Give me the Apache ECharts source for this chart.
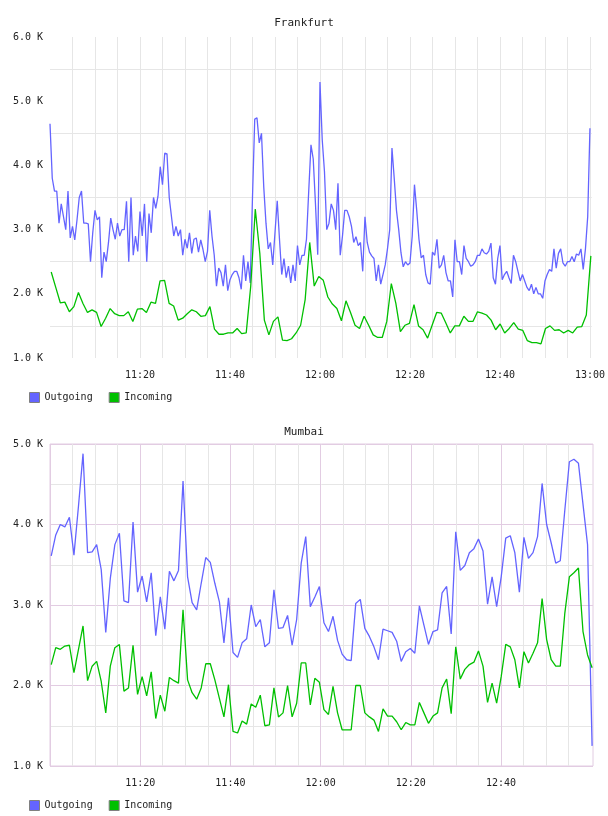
<!DOCTYPE html>
<html>
<head>
<meta charset="utf-8">
<script src="https://cdn.jsdelivr.net/npm/echarts@6/dist/echarts.min.js"></script>
<style>
  html, body { margin: 0; padding: 0; background: #fff; }
  #chart { width: 608px; height: 816px; }
</style>
</head>
<body>
<div id="chart"></div>
<script>
// values in thousands (K), time axis in minutes after 11:00
const seriesNames = ['Outgoing', 'Incoming']

// Frankfurt outgoing, one sample every 30 s from 11:00
const fraOutStep = 0.5
const fraOutgoing = [
  4.65, 3.8, 3.6, 3.6, 3.1, 3.4, 3.2, 3.0, 3.6, 2.87,
  3.05, 2.84, 3.15, 3.5, 3.6, 3.1, 3.1, 3.09, 2.5, 2.95,
  3.3, 3.15, 3.2, 2.25, 2.65, 2.5, 2.8, 3.18, 3.0, 2.85,
  3.1, 2.9, 3.0, 3.0, 3.44, 2.5, 3.5, 2.6, 2.9, 2.66,
  3.28, 2.9, 3.4, 2.5, 3.25, 2.95, 3.5, 3.33, 3.52, 3.98,
  3.7, 4.19, 4.18, 3.5, 3.2, 2.9, 3.05, 2.9, 3.0, 2.6,
  2.85, 2.71, 2.95, 2.63, 2.85, 2.87, 2.65, 2.84, 2.69, 2.5,
  2.66, 3.3, 2.9, 2.6, 2.12, 2.4, 2.33, 2.12, 2.45, 2.05,
  2.22, 2.3, 2.35, 2.35, 2.25, 2.07, 2.6, 2.2, 2.5, 2.17,
  3.5, 4.72, 4.74, 4.35, 4.5, 3.67, 3.1, 2.7, 2.8, 2.45,
  2.95, 3.45, 2.85, 2.3, 2.55, 2.25, 2.43, 2.17, 2.45, 2.2,
  2.75, 2.45, 2.6, 2.6, 2.85, 3.6, 4.32, 4.1, 3.4, 2.61,
  5.3, 4.4, 3.9, 3.0, 3.1, 3.4, 3.3, 3.0, 3.72, 2.6,
  2.9, 3.3, 3.3, 3.2, 3.05, 2.8, 2.89, 2.75, 2.8, 2.35,
  3.2, 2.8, 2.65, 2.59, 2.55, 2.2, 2.45, 2.15, 2.3, 2.45,
  2.7, 3.0, 4.27, 3.8, 3.3, 3.0, 2.64, 2.42, 2.5, 2.45,
  2.48, 2.9, 3.7, 3.3, 2.85, 2.56, 2.6, 2.3, 2.17, 2.15,
  2.65, 2.6, 2.85, 2.4, 2.45, 2.6, 2.33, 2.2, 2.2, 1.95,
  2.84, 2.5, 2.5, 2.3, 2.75, 2.55, 2.5, 2.43, 2.45, 2.5,
  2.6, 2.6, 2.7, 2.64, 2.62, 2.66, 2.79, 2.25, 2.15, 2.55,
  2.75, 2.22, 2.3, 2.35, 2.25, 2.16, 2.6, 2.5, 2.35, 2.2,
  2.3, 2.2, 2.1, 2.05, 2.15, 2.0, 2.1, 2.0, 2.0, 1.93,
  2.2, 2.3, 2.38, 2.35, 2.7, 2.4, 2.63, 2.7, 2.48, 2.43,
  2.5, 2.5, 2.58, 2.5, 2.62, 2.6, 2.7, 2.38, 2.7, 3.2,
  4.58
]

// the other three series share a one-minute grid
const minuteStart = 0.27
const minuteEnd = 120.2

const fraIncoming = [
  2.34, 2.1, 1.86, 1.87, 1.72, 1.8, 2.02, 1.85, 1.71, 1.75,
  1.71, 1.49, 1.62, 1.77, 1.69, 1.66, 1.66, 1.72, 1.57, 1.76,
  1.77, 1.71, 1.87, 1.85, 2.2, 2.21, 1.85, 1.81, 1.59, 1.62,
  1.69, 1.75, 1.72, 1.65, 1.66, 1.8, 1.45, 1.37, 1.37, 1.39,
  1.39, 1.46, 1.38, 1.39, 2.12, 3.32, 2.63, 1.59, 1.36, 1.57,
  1.64, 1.28, 1.27, 1.3, 1.39, 1.51, 1.91, 2.8, 2.12, 2.27,
  2.21, 1.95, 1.84, 1.77, 1.58, 1.89, 1.71, 1.51, 1.46, 1.65,
  1.51, 1.36, 1.32, 1.32, 1.57, 2.16, 1.85, 1.41, 1.51, 1.54,
  1.83, 1.5, 1.44, 1.31, 1.51, 1.71, 1.7, 1.55, 1.39, 1.5,
  1.5, 1.65, 1.57, 1.57, 1.72, 1.7, 1.67, 1.59, 1.44, 1.53,
  1.39, 1.46, 1.55, 1.45, 1.43, 1.27, 1.24, 1.24, 1.22, 1.46,
  1.5, 1.43, 1.44, 1.39, 1.43, 1.39, 1.48, 1.49, 1.67, 2.59
]

const mumOutgoing = [
  3.61, 3.87, 4.0, 3.97, 4.09, 3.62, 4.23, 4.88, 3.65, 3.66,
  3.75, 3.44, 2.66, 3.33, 3.75, 3.89, 3.05, 3.03, 4.03, 3.16,
  3.36, 3.04, 3.4, 2.62, 3.1, 2.7, 3.42, 3.3, 3.43, 4.54,
  3.35, 3.03, 2.94, 3.27, 3.59, 3.53, 3.27, 3.04, 2.53, 3.09,
  2.41, 2.35, 2.53, 2.58, 3.0, 2.73, 2.82, 2.48, 2.53, 3.19,
  2.71, 2.72, 2.87, 2.5, 2.82, 3.52, 3.85, 2.98, 3.1, 3.23,
  2.78, 2.67, 2.86, 2.56, 2.39, 2.32, 2.31, 3.02, 3.07, 2.71,
  2.61, 2.48, 2.32, 2.7, 2.68, 2.66, 2.55, 2.3, 2.42, 2.46,
  2.4, 2.99, 2.75, 2.51, 2.67, 2.69, 3.15, 3.23, 2.64, 3.91,
  3.43, 3.49, 3.65, 3.7, 3.82, 3.67, 3.01, 3.35, 2.98, 3.35,
  3.83, 3.86, 3.65, 3.16, 3.84, 3.58, 3.65, 3.85, 4.51, 4.0,
  3.77, 3.52, 3.55, 4.18, 4.78, 4.81, 4.76, 4.25, 3.75, 1.25
]

const mumIncoming = [
  2.26, 2.47, 2.45, 2.49, 2.5, 2.16, 2.45, 2.74, 2.06, 2.24,
  2.3, 2.05, 1.66, 2.24, 2.47, 2.51, 1.93, 1.97, 2.5, 1.89,
  2.11, 1.87, 2.17, 1.59, 1.88, 1.68, 2.1, 2.06, 2.03, 2.94,
  2.07, 1.91, 1.83, 1.97, 2.27, 2.27, 2.07, 1.84, 1.61, 2.01,
  1.43, 1.41, 1.56, 1.52, 1.77, 1.73, 1.88, 1.5, 1.51, 1.97,
  1.61, 1.66, 2.0, 1.61, 1.78, 2.28, 2.28, 1.76, 2.09, 2.04,
  1.7, 1.64, 1.99, 1.66, 1.45, 1.45, 1.45, 2.0, 2.0, 1.66,
  1.61, 1.57, 1.43, 1.71, 1.62, 1.62, 1.55, 1.45, 1.54, 1.51,
  1.51, 1.79, 1.66, 1.53, 1.62, 1.66, 1.97, 2.08, 1.65, 2.48,
  2.08, 2.2, 2.26, 2.29, 2.43, 2.24, 1.79, 2.03, 1.78, 2.11,
  2.51, 2.48, 2.32, 1.97, 2.42, 2.28, 2.4, 2.53, 3.08, 2.57,
  2.32, 2.24, 2.24, 2.9, 3.35, 3.4, 3.46, 2.67, 2.38, 2.22
]

const fraYTicks = [1, 6]
const mumYTicks = [1, 5]

const blue = '#6464ff'
const green = '#00c000'
const grey = '#e6e6e6'
const pink = '#e2cce2'
const font = 'DejaVu Sans Mono'
const lineW = 1.3

function halfMinutes (values, step) {
  return values.map((v, i) => [i * step, v])
}
function onMinutes (values) {
  const step = (minuteEnd - minuteStart) / (values.length - 1)
  return values.map((v, i) => [minuteStart + i * step, v])
}
function timeLabel (showLast) {
  return function (v) {
    if (v <= 0 || Math.abs(v % 20) > 1e-6) return ''
    if (v === 120 && !showLast) return ''
    const h = 11 + Math.floor(v / 60)
    const m = v % 60
    return h + ':' + (m < 10 ? '0' + m : m)
  }
}
function kLabel (v) {
  return v % 1 === 0 ? v.toFixed(1) + ' K' : ''
}

// Mumbai vertical lines: every 20 min darker, the 13:00 one falls on the frame
const mumXColors = []
for (let i = 0; i <= 24; i++) {
  mumXColors.push(i === 24 ? 'rgba(0,0,0,0)' : (i % 4 === 0 ? pink : grey))
}

const xBase = {
  type: 'value',
  min: 0,
  max: 120.4,
  interval: 5,
  axisLine: { show: false },
  axisTick: { show: false },
  axisLabel: { fontFamily: font, fontSize: 10, color: '#222', margin: 12 }
}
const yBase = {
  type: 'value',
  interval: 0.5,
  axisLine: { show: false },
  axisTick: { show: false },
  axisLabel: { fontFamily: font, fontSize: 10, color: '#222', margin: 7, formatter: kLabel }
}
const legendBase = {
  data: seriesNames,
  left: 24,
  icon: 'rect',
  itemWidth: 10,
  itemHeight: 10,
  itemGap: 16,
  selectedMode: false,
  itemStyle: { borderColor: '#808080', borderWidth: 1 },
  textStyle: { fontFamily: font, fontSize: 10, color: '#222' }
}
const titleText = { fontFamily: font, fontSize: 11, fontWeight: 'normal', color: '#222' }

const chart = echarts.init(document.getElementById('chart'), null, { renderer: 'canvas' })
chart.setOption({
  animation: false,
  backgroundColor: '#fff',
  color: [blue, green],
  title: [
    { text: 'Frankfurt', left: 'center', top: 13, textStyle: titleText },
    { text: 'Mumbai', left: 'center', top: 422, textStyle: titleText }
  ],
  legend: [
    Object.assign({}, legendBase, { top: 387 }),
    Object.assign({}, legendBase, { top: 795 })
  ],
  grid: [
    { left: 50, top: 37, width: 543, height: 321 },
    { left: 50, top: 444, width: 543, height: 322, show: true, borderColor: pink, borderWidth: 1 }
  ],
  xAxis: [
    Object.assign({}, xBase, {
      gridIndex: 0,
      axisLabel: Object.assign({}, xBase.axisLabel, { formatter: timeLabel(true) }),
      splitLine: { show: true, showMinLine: false, showMaxLine: false, lineStyle: { color: grey, width: 1 } }
    }),
    Object.assign({}, xBase, {
      gridIndex: 1,
      axisLabel: Object.assign({}, xBase.axisLabel, { formatter: timeLabel(false) }),
      splitLine: { show: true, showMaxLine: false, lineStyle: { color: mumXColors, width: 1 } }
    })
  ],
  yAxis: [
    Object.assign({}, yBase, {
      gridIndex: 0,
      min: fraYTicks[0],
      max: fraYTicks[1],
      splitLine: { show: true, lineStyle: { color: ['rgba(0,0,0,0)', grey], width: 1 } }
    }),
    Object.assign({}, yBase, {
      gridIndex: 1,
      min: mumYTicks[0],
      max: mumYTicks[1],
      splitLine: { show: true, lineStyle: { color: [pink, grey], width: 1 } }
    })
  ],
  series: [
    { name: 'Outgoing', type: 'line', xAxisIndex: 0, yAxisIndex: 0, showSymbol: false, lineStyle: { width: lineW, color: blue }, itemStyle: { color: blue }, data: halfMinutes(fraOutgoing, fraOutStep) },
    { name: 'Incoming', type: 'line', xAxisIndex: 0, yAxisIndex: 0, showSymbol: false, lineStyle: { width: lineW, color: green }, itemStyle: { color: green }, data: onMinutes(fraIncoming) },
    { name: 'Outgoing', type: 'line', xAxisIndex: 1, yAxisIndex: 1, showSymbol: false, lineStyle: { width: lineW, color: blue }, itemStyle: { color: blue }, data: onMinutes(mumOutgoing) },
    { name: 'Incoming', type: 'line', xAxisIndex: 1, yAxisIndex: 1, showSymbol: false, lineStyle: { width: lineW, color: green }, itemStyle: { color: green }, data: onMinutes(mumIncoming) }
  ]
})
</script>
</body>
</html>
